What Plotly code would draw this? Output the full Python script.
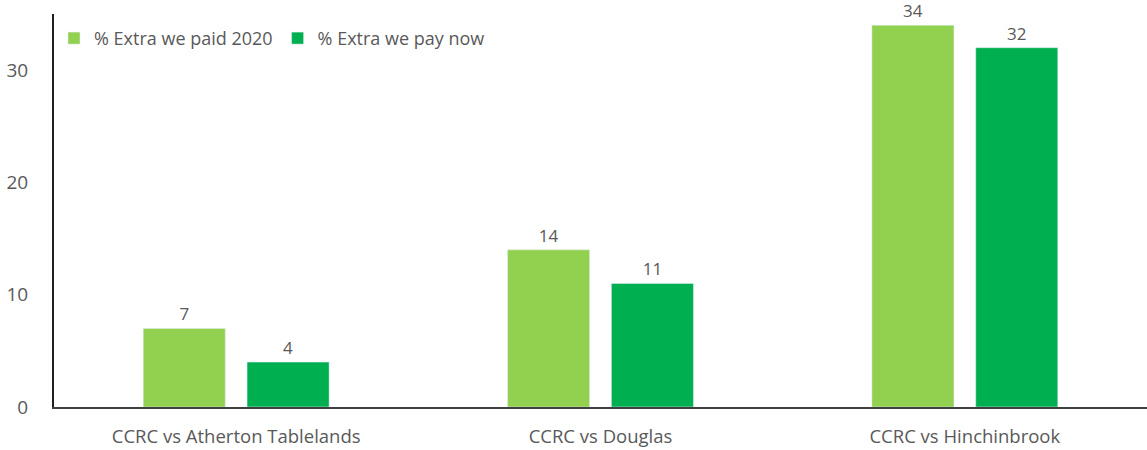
import plotly.graph_objects as go

categories = ["CCRC vs Atherton Tablelands", "CCRC vs Douglas", "CCRC vs Hinchinbrook"]
paid_2020 = [7, 14, 34]
pay_now = [4, 11, 32]
series_names = ["% Extra we paid 2020", "% Extra we pay now"]
tick_vals = [0, 10, 20, 30]

FONT = "Open Sans, Liberation Sans, sans-serif"
GREY = "#595959"

fig = go.Figure()
fig.add_trace(go.Bar(
    x=categories, y=paid_2020, name=series_names[0],
    marker=dict(color="#92D050"),
    text=paid_2020, textposition="outside", cliponaxis=False,
    textfont=dict(size=17, color=GREY, family=FONT),
))
fig.add_trace(go.Bar(
    x=categories, y=pay_now, name=series_names[1],
    marker=dict(color="#00B050"),
    text=pay_now, textposition="outside", cliponaxis=False,
    textfont=dict(size=17, color=GREY, family=FONT),
))

fig.update_layout(
    width=1147, height=450,
    margin=dict(l=54, r=0, t=14, b=43),
    paper_bgcolor="white", plot_bgcolor="white",
    barmode="group", bargap=0.43, bargroupgap=0.21,
    font=dict(family=FONT, size=18, color=GREY),
    showlegend=True,
    legend=dict(
        orientation="h", x=0.0, y=0.985, xanchor="left", yanchor="top",
        font=dict(size=18, color=GREY, family=FONT),
        bgcolor="rgba(0,0,0,0)", itemwidth=30, tracegroupgap=0,
    ),
    xaxis=dict(
        showline=True, linecolor="#404040", linewidth=2,
        ticks="", showgrid=False, automargin=False,
        tickfont=dict(size=18.5, color=GREY, family=FONT),
        ticklabelstandoff=12,
    ),
    yaxis=dict(
        range=[0, 35], tickvals=tick_vals, automargin=False,
        showline=True, linecolor="#202020", linewidth=2,
        showgrid=False, zeroline=False, ticks="",
        tickfont=dict(size=19, color=GREY, family=FONT),
        ticklabelstandoff=20,
    ),
)

fig.write_html("out.html")
